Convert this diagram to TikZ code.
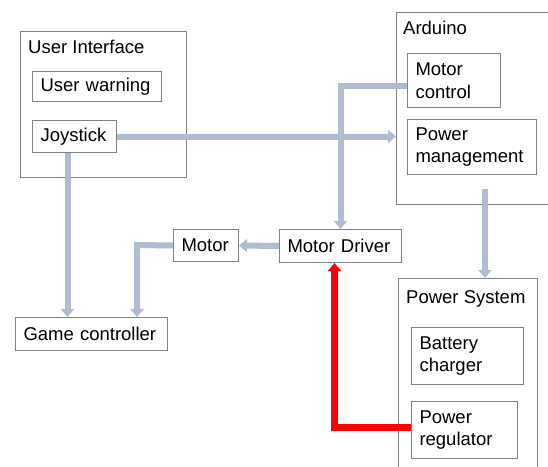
\documentclass[tikz,border=0pt]{standalone}
\usepackage{fontspec}
\setmainfont{Liberation Sans}
\usetikzlibrary{arrows.meta}
\definecolor{linegray}{RGB}{176,188,208}
\definecolor{framegray}{RGB}{130,130,130}
\definecolor{redline}{RGB}{255,0,0}
\newcommand{\lbl}{\fontsize{18.5}{22.5}\selectfont}
\tikzset{
  frame/.style={draw=framegray, line width=1pt, anchor=north west, inner sep=0pt},
  inbox/.style={draw=framegray, line width=1pt, anchor=north west, align=left,
    inner xsep=8pt, inner ysep=0pt, font=\lbl},
  ttl/.style={anchor=base west, inner sep=0pt, font=\lbl},
  conn/.style={line width=6pt, draw=linegray, -{Triangle[width=13pt,length=8pt,fill=linegray]}},
  redconn/.style={line width=7pt, draw=redline, -{Triangle[width=13pt,length=8pt,fill=redline]}},
}
\begin{document}
\begin{tikzpicture}[x=1pt,y=-1pt]
\useasboundingbox (0,0) rectangle (548,466);
\clip (0,0) rectangle (548,466);
\fill[white] (0,0) rectangle (548,466);
% outer frames
\node[frame, minimum width=166pt, minimum height=146pt] (ui) at (20,31) {};
\node[ttl] (uit) at (28,53) {User Interface};
\node[frame, minimum width=200pt, minimum height=192pt] (ard) at (396,12) {};
\node[ttl] (ardt) at (403,34) {Arduino};
\node[frame, minimum width=139pt, minimum height=220pt] (ps) at (398,278) {};
\node[ttl] (pst) at (406,303) {Power System};
% inner boxes
\node[inbox, text width=113pt, minimum height=30pt] (uw) at (32,71) {User warning};
\node[inbox, text width=68pt, minimum height=32pt] (joy) at (32,120) {Joystick};
\node[inbox, text width=77pt, minimum height=54pt] (mc) at (407,53) {Motor\\control};
\node[inbox, text width=113pt, minimum height=55pt] (pm) at (407,119) {Power\\management};
\node[inbox, text width=106pt, minimum height=33pt] (md) at (279,229) {Motor Driver};
\node[inbox, text width=49pt, minimum height=32pt] (mot) at (173,229) {Motor};
\node[inbox, text width=136pt, minimum height=33pt] (gc) at (15,317) {Game controller};
\node[inbox, text width=96pt, minimum height=57pt] (bc) at (411,327) {Battery\\charger};
\node[inbox, text width=90pt, minimum height=57pt] (preg) at (411,401) {Power\\regulator};
% connectors
\draw[conn] (joy.east) -- (ard.west |- joy.east);
\draw[conn] ([xshift=-7pt]joy.south) -- ([xshift=-7pt]joy.south |- gc.north);
\draw[conn] ([yshift=-5pt]mc.west) -| (md.north);
\coordinate (ardout) at (485,189);
\draw[conn] (ardout) -- (ardout |- ps.north);
\draw[conn] (md.west) -- (mot.east);
\coordinate (bend) at (137,245);
\draw[conn] (mot.west) -- (bend) -- (bend |- gc.north);
\draw[redconn] ([yshift=3pt]preg.west) -| ([xshift=-6pt]md.south);
\end{tikzpicture}
\end{document}
